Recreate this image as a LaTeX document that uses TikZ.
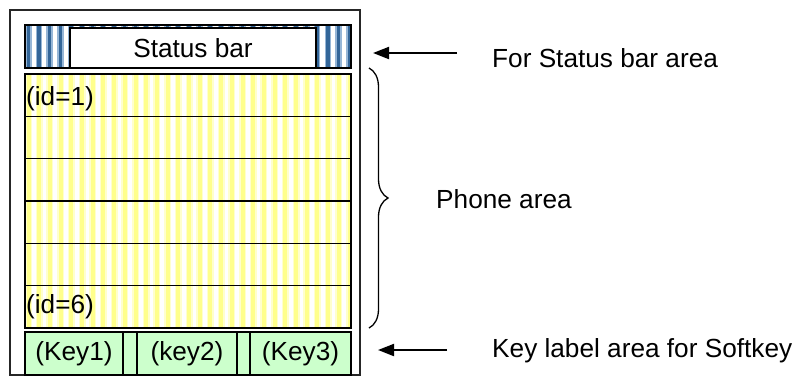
\documentclass[tikz,border=0pt]{standalone}
\usepackage{fontspec}
\setmainfont{Liberation Sans}
\usetikzlibrary{arrows.meta, positioning, decorations.pathreplacing}
\definecolor{barblue}{RGB}{51,102,153}
\definecolor{barlight}{RGB}{150,182,215}
\definecolor{rowyellow}{RGB}{255,255,140}
\definecolor{rowpale}{RGB}{255,255,205}
\definecolor{keygreen}{RGB}{204,255,204}

\begin{document}
\begin{tikzpicture}[x=1pt, y=-1pt, font=\fontsize{26.2}{31}\selectfont,
  box/.style={draw, line width=1.6pt, inner sep=0pt, outer sep=0pt},
  rowbox/.style={box, minimum width=326pt, minimum height=42.33pt},
  keycell/.style={box, fill=keygreen, minimum height=43pt},
  arr/.style={-{Triangle[length=16pt,width=12pt]}, line width=2pt},
  lbl/.style={anchor=base west, inner sep=0pt}]
\useasboundingbox (0,0) rectangle (802,376);

% phone outline
\node[box, draw=black!85, line width=1.8pt, minimum width=350pt, minimum height=365pt, anchor=north west] (frame) at (10,10) {};

% status bar strip
\begin{scope}
\clip (25,25) rectangle (351,68);
\foreach \x in {25,35.7,...,352} {
  \fill[barlight] (\x,25) rectangle ++(6.5,43);
  \fill[barblue] (\x+1.5,25) rectangle ++(3.5,43);
}
\end{scope}
\node[box, minimum width=326pt, minimum height=43pt, anchor=north west] (sbar) at (25,25) {};
\node[box, fill=white, minimum width=246pt, minimum height=40pt, anchor=north west] (sbox) at (70,28) {Status bar};

% phone area rows
\begin{scope}
\clip (25,74) rectangle (351,328);
\foreach \x in {25,35.7,...,352} {
  \fill[rowpale] (\x,74) rectangle ++(7,254);
  \fill[rowyellow] (\x+1.5,74) rectangle ++(4,254);
}
\end{scope}
\node[rowbox, anchor=north west] (row1) at (25,74) {};
\foreach \i [remember=\i as \j (initially 1)] in {2,...,6}
  \node[rowbox, below=0pt of row\j] (row\i) {};
\node[lbl] (id1) at (26,105) {(id=1)};
\node[lbl] (id6) at (26,313) {(id=6)};

% softkey labels
\node[keycell, minimum width=98pt, anchor=north west] (key1) at (25,332) {(Key1)};
\node[keycell, minimum width=14pt, right=0pt of key1] (gap1) {};
\node[keycell, minimum width=100pt, right=0pt of gap1] (key2) {(key2)};
\node[keycell, minimum width=13pt, right=0pt of key2] (gap2) {};
\node[keycell, minimum width=101pt, right=0pt of gap2] (key3) {(Key3)};

% notes
\node[lbl] (sbtxt) at (492,67) {For Status bar area};
\node[lbl] (phtxt) at (436,208) {Phone area};
\node[lbl] (sktxt) at (492,357) {Key label area for Softkey};

\coordinate (sbtail) at (457,53);
\coordinate (sbtip) at (373,53);
\coordinate (sktail) at (447,350);
\coordinate (sktip) at (378,350);
\coordinate (brtop) at (369,68);
\coordinate (brbot) at (369,328);

\draw[arr] (sbtail) -- (sbtip);
\draw[arr] (sktail) -- (sktip);
\draw[decorate, decoration={brace, amplitude=19pt}, line width=1.3pt] (brtop) -- (brbot);
\end{tikzpicture}
\end{document}
